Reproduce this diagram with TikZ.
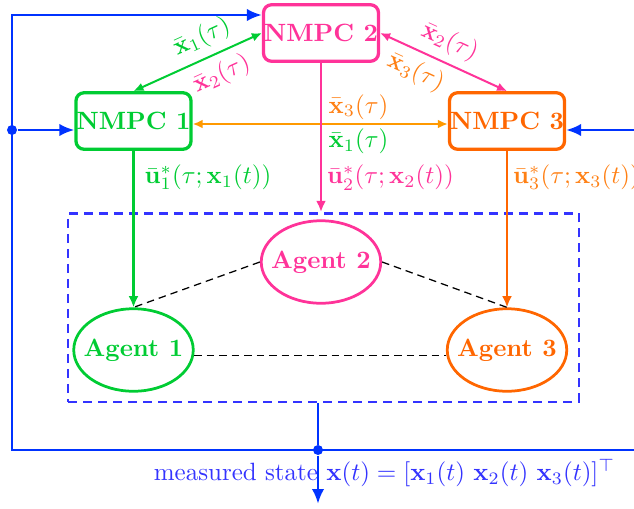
\documentclass[tikz,border=0pt]{standalone}
\usetikzlibrary{arrows.meta,shapes.geometric,calc}
\definecolor{cgreen}{RGB}{0,204,51}
\definecolor{cpink}{RGB}{255,51,153}
\definecolor{corange}{RGB}{255,102,0}
\definecolor{clorange}{RGB}{255,153,0}
\definecolor{ctorange}{RGB}{255,128,20}
\definecolor{cblue}{RGB}{0,51,255}
\definecolor{cdblue}{RGB}{51,51,255}
\begin{document}
\begin{tikzpicture}[x=0.4pt,y=-0.4pt,
 box/.style={draw,rounded corners=3.2pt,line width=1.3pt,minimum width=46pt,minimum height=22.6pt,inner sep=0pt,font=\bfseries},
 agent/.style={ellipse,draw,line width=1.1pt,minimum width=47.8pt,minimum height=33pt,inner sep=0pt},
 link/.style={line width=0.8pt,{Latex[length=4pt,width=3.5pt]}-{Latex[length=4pt,width=3.5pt]}},
 cmd/.style={line width=0.9pt,-{Latex[length=4.5pt,width=4pt]}},
 fb/.style={cblue,line width=1.1pt},
 fbarrow/.style={fb,-{Latex[length=6pt,width=5pt]}},
 dot/.style={circle,fill=cblue,inner sep=0pt,minimum size=4pt},
 coup/.style={dash pattern=on 3pt off 2pt,line width=0.5pt},
 lab/.style={inner sep=1.5pt},
 slab/.style={inner sep=3pt},
]
\useasboundingbox (0,0) rectangle (634,508);

% controllers
\node[box,draw=cpink,text=cpink] (n2) at (321,33) {NMPC 2};
\node[box,draw=cgreen,text=cgreen] (n1) at (133.5,121) {NMPC 1};
\node[box,draw=corange,text=corange] (n3) at (507,121) {NMPC 3};

% system
\node[draw=cdblue,dash pattern=on 3.6pt off 2.4pt,line width=1pt,minimum width=204.2pt,minimum height=75.4pt,inner sep=0pt] (sys) at (323.5,307.5) {};
\node[agent,draw=cpink,label={[font=\bfseries,text=cpink]center:Agent 2}] (a2) at (321,262) {};
\node[agent,draw=cgreen,label={[font=\bfseries,text=cgreen]center:Agent 1}] (a1) at (133.5,350) {};
\node[agent,draw=corange,label={[font=\bfseries,text=corange]center:Agent 3}] (a3) at (507,350) {};

% coupling
\draw[coup] (a2.west) -- (a1.north);
\draw[coup] (a2.east) -- (a3.north);
\draw[coup] (a1.-5) -- (a3.185);

% communication
\draw[link,cgreen] (n1.north) -- node[slab,pos=0.6,above,sloped,text=cgreen]{$\bar{\mathbf{x}}_1(\tau)$} node[slab,pos=0.62,below,sloped,text=cpink]{$\bar{\mathbf{x}}_2(\tau)$} (n2.west);
\draw[link,cpink] (n2.east) -- node[slab,pos=0.48,above,sloped,text=cpink]{$\bar{\mathbf{x}}_2(\tau)$} node[slab,pos=0.35,below,sloped,text=ctorange]{$\bar{\mathbf{x}}_3(\tau)$} (n3.north);
\draw[link,clorange] ($(n1.east)+(0,3)$) -- node[lab,pos=0.65,above,text=ctorange]{$\bar{\mathbf{x}}_3(\tau)$} node[lab,pos=0.65,below,text=cgreen]{$\bar{\mathbf{x}}_1(\tau)$} ($(n3.west)+(0,3)$);

% commands
\draw[cmd,cgreen] (n1.south) -- node[pos=0.17,right,inner sep=4pt,text=cgreen]{$\bar{\mathbf{u}}_1^*(\tau;\mathbf{x}_1(t))$} (a1.north);
\draw[cmd,cpink] (n2.south) -- node[pos=0.77,right,inner sep=2pt,text=cpink]{$\bar{\mathbf{u}}_2^*(\tau;\mathbf{x}_2(t))$} (n2.south |- sys.north);
\draw[cmd,corange] (n3.south) -- node[pos=0.17,right,inner sep=2pt,text=ctorange]{$\bar{\mathbf{u}}_3^*(\tau;\mathbf{x}_3(t))$} (a3.north);

% feedback
\node[dot] (d1) at (318,450) {};
\node[dot] (d2) at (12,130) {};
\coordinate (bl) at (12,450);
\coordinate (tl) at (12,15);
\coordinate (br) at (650,450);
\coordinate (rin) at (650,130);
\coordinate (out) at (318,504);
\draw[fb] (d1 |- sys.south) -- (d1);
\draw[fbarrow] (d1) -- (out);
\draw[fbarrow] (br) -- (bl) -- (tl) -- (tl -| n2.west);
\draw[fbarrow] (d2) -- (d2 -| n1.west);
\draw[fbarrow] (br) -- (rin) -- (rin -| n3.east);
\node[text=cdblue,anchor=west] (meas) at (145,473) {measured state $\mathbf{x}(t)=[\mathbf{x}_1(t)\ \mathbf{x}_2(t)\ \mathbf{x}_3(t)]^\top$};
\end{tikzpicture}
\end{document}
